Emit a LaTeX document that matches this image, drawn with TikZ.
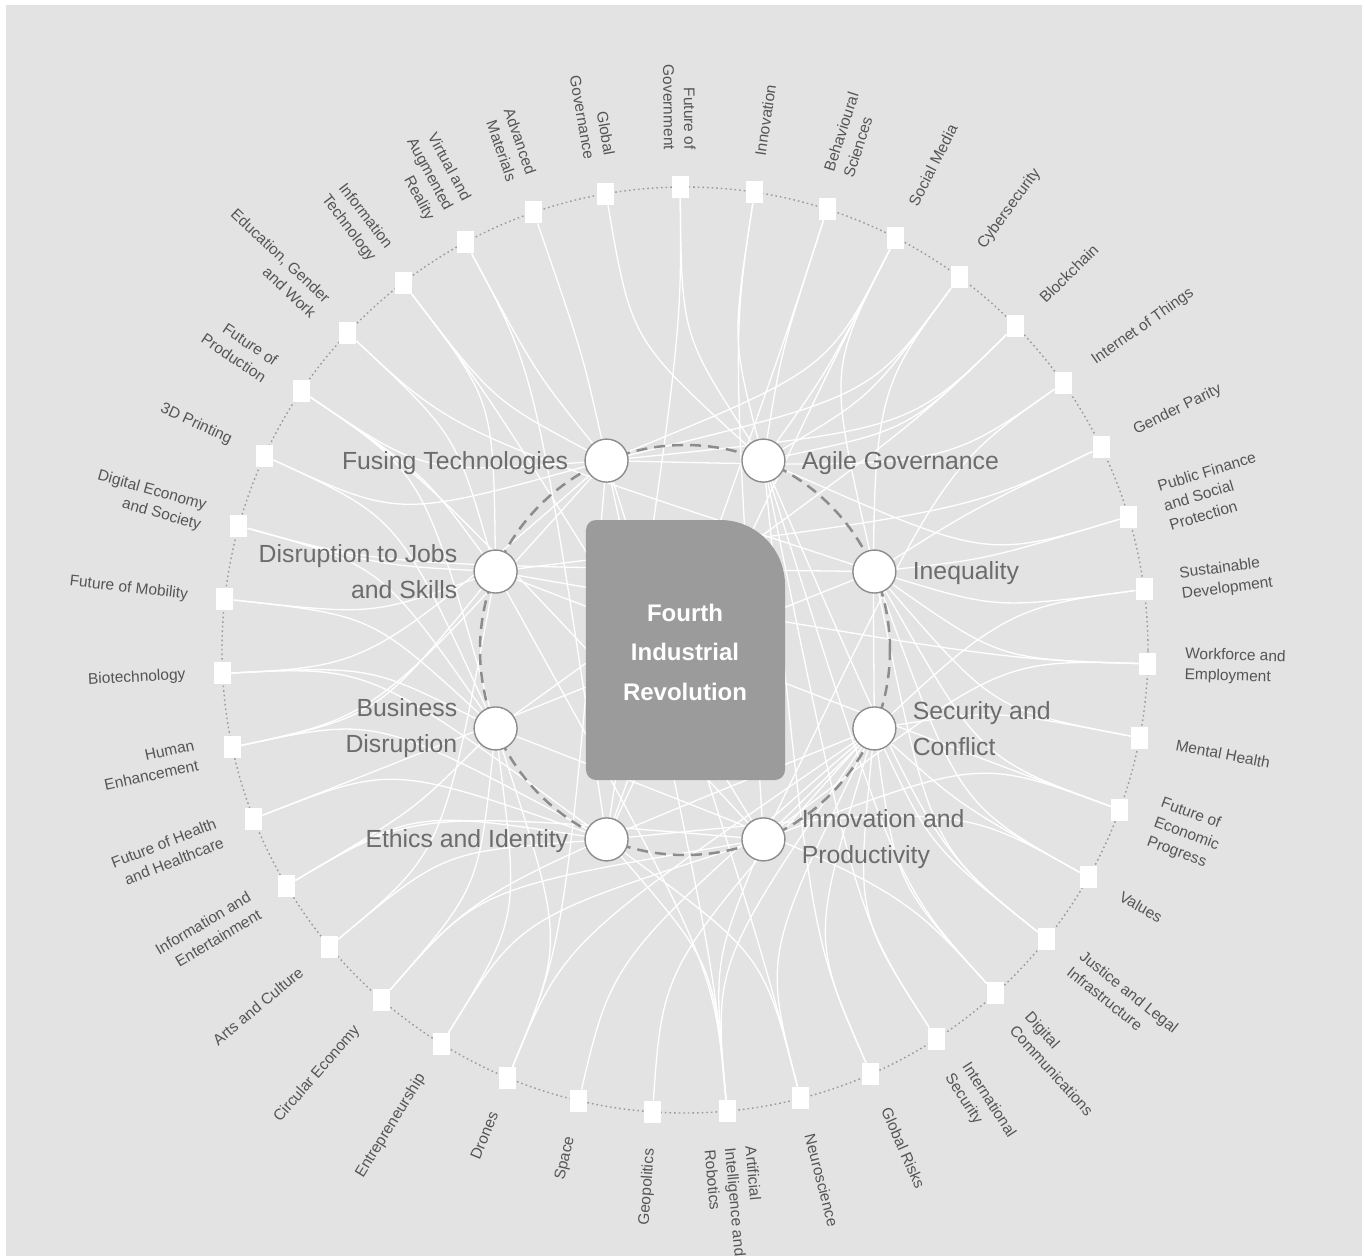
\documentclass[tikz,border=0pt]{standalone}
\usepackage{fontspec}
\setmainfont{Liberation Sans}
\pgfdeclarelayer{bg}
\pgfdeclarelayer{links}
\pgfsetlayers{bg,links,main}
\definecolor{bggrey}{HTML}{E3E3E3}
\definecolor{txtgrey}{HTML}{555555}
\definecolor{keygrey}{HTML}{6C6C6C}
\definecolor{ringgrey}{HTML}{8C8C8C}
\definecolor{dotgrey}{HTML}{9A9A9A}
\definecolor{boxgrey}{HTML}{9B9B9B}
\begin{document}
\begin{tikzpicture}[x=1pt,y=1pt,
  topic/.style={font=\fontsize{15.5}{20.5}\selectfont, text=txtgrey, inner sep=0pt},
  sq/.style={fill=white, minimum width=17pt, minimum height=22pt, inner sep=0pt, draw=none},
  key/.style={circle, fill=white, draw=ringgrey, line width=1.4pt, minimum size=43pt, inner sep=0pt},
  keylabel/.style={font=\fontsize{24.8}{36}\selectfont, text=keygrey, inner sep=0pt},
  link/.style={white, line width=1.3pt},
]
\useasboundingbox (-685,650) rectangle (680,-606);
\begin{pgfonlayer}{bg}
\fill[white] (-685,650) rectangle (680,-606);
\fill[bggrey] (-679,645) rectangle (677,-606);
\end{pgfonlayer}

% inner dashed ring
\draw[ringgrey, line width=2.5pt, dash pattern=on 11pt off 7pt] (0,0) circle[radius=205pt];

% outer topic squares
\foreach \k in {0,...,38}{
  \pgfmathsetmacro\ang{90.6-9.2308*\k}
  \node[sq] (o\k) at (\ang:463) {};
  \coordinate (c\k) at (\ang:315);
}

% key issue circles
\foreach \j/\a in {0/112.5,1/67.5,2/22.5,3/-22.5,4/-67.5,5/-112.5,6/-157.5,7/157.5}
  \node[key] (i\j) at (\a:205) {};

% central box
\fill[boxgrey] (-99,120) -- (-99,-120) arc[start angle=180,end angle=270,radius=10pt]
  -- (90,-130) arc[start angle=270,end angle=360,radius=10pt]
  -- (100,65) arc[start angle=0,end angle=90,radius=65pt]
  -- (-89,130) arc[start angle=90,end angle=180,radius=10pt] -- cycle;
\node[font=\fontsize{24}{39.5}\selectfont\bfseries, text=white, align=center, inner sep=0pt] (frt) at (0,-2) {Fourth\\Industrial\\Revolution};

% key labels
\node[keylabel, anchor=east] (l0) at ([xshift=-16pt,yshift=-2pt]i0.west) {Fusing Technologies};
\node[keylabel, anchor=west] (l1) at ([xshift=16pt,yshift=-2pt]i1.east) {Agile Governance};
\node[keylabel, anchor=west] (l2) at ([xshift=16pt,yshift=-2pt]i2.east) {Inequality};
\node[keylabel, anchor=west, align=left] (l3) at ([xshift=16pt]i3.east) {Security and\\Conflict};
\node[keylabel, anchor=west, align=left] (l4) at ([xshift=16pt]i4.east) {Innovation and\\Productivity};
\node[keylabel, anchor=east] (l5) at ([xshift=-16pt,yshift=-2pt]i5.west) {Ethics and Identity};
\node[keylabel, anchor=east, align=right] (l6) at ([xshift=-16pt]i6.west) {Business\\Disruption};
\node[keylabel, anchor=east, align=right] (l7) at ([xshift=-16pt]i7.west) {Disruption to Jobs\\and Skills};

% topic labels, right half
\foreach \k/\t in {1/{Innovation},2/{Behavioural\\Sciences},3/{Social Media},4/{Cybersecurity},5/{Blockchain},6/{Internet of Things},7/{Gender Parity},8/{Public Finance\\and Social\\Protection},9/{Sustainable\\Development},10/{Workforce and\\Employment},11/{Mental Health},12/{Future of\\Economic\\Progress},13/{Values},14/{Justice and Legal\\Infrastructure},15/{Digital\\Communications},16/{International\\Security},17/{Global Risks},18/{Neuroscience},19/{Artificial\\Intelligence and\\Robotics}}{
  \pgfmathsetmacro\ang{90.6-9.2308*\k}
  \node[topic, anchor=west, align=left, rotate=\ang] (t\k) at (\ang:500) {\t};
}
% topic labels, left half
\foreach \k/\t in {0/{Future of\\Government},20/{Geopolitics},21/{Space},22/{Drones},23/{Entrepreneurship},24/{Circular Economy},25/{Arts and Culture},26/{Information and\\Entertainment},27/{Future of Health\\and Healthcare},28/{Human\\Enhancement},29/{Biotechnology},30/{Future of Mobility},31/{Digital Economy\\and Society},32/{3D Printing},33/{Future of\\Production},34/{Education, Gender\\and Work},35/{Information\\Technology},36/{Virtual and\\Augmented\\Reality},37/{Advanced\\Materials},38/{Global\\Governance}}{
  \pgfmathsetmacro\ang{90.6-9.2308*\k}
  \pgfmathsetmacro\rot{\ang+180}
  \node[topic, anchor=east, align=right, rotate=\rot] (t\k) at (\ang:500) {\t};
}

% connectors
\begin{pgfonlayer}{links}
\draw[dotgrey, line width=1.4pt, dash pattern=on 1.6pt off 3pt] (0,0) circle[radius=463pt];
\foreach \j/\k in {0/37,0/36,0/35,0/33,0/32,0/4,0/5,0/6,0/19,0/29,0/22,0/18,0/28,0/3,
  1/38,1/0,1/1,1/2,1/3,1/4,1/5,1/14,1/16,1/15,1/8,1/17,
  2/7,2/8,2/9,2/10,2/11,2/12,2/13,2/34,2/27,2/31,2/14,2/3,
  3/4,3/16,3/17,3/20,3/21,3/22,3/19,3/15,3/14,3/13,3/11,3/18,3/24,
  4/1,4/23,4/24,4/12,4/10,4/19,4/35,4/33,4/9,4/26,4/6,
  5/28,5/27,5/26,5/25,5/18,5/13,5/29,5/3,5/2,5/19,5/36,5/0,
  6/30,6/29,6/31,6/23,6/24,6/22,6/5,6/33,6/32,6/15,6/26,
  7/34,7/33,7/31,7/30,7/10,7/7,7/19,7/35,7/12,7/28,7/25}
  \draw[link] (i\j) .. controls (c\k) .. (o\k);
\end{pgfonlayer}
\end{tikzpicture}
\end{document}
